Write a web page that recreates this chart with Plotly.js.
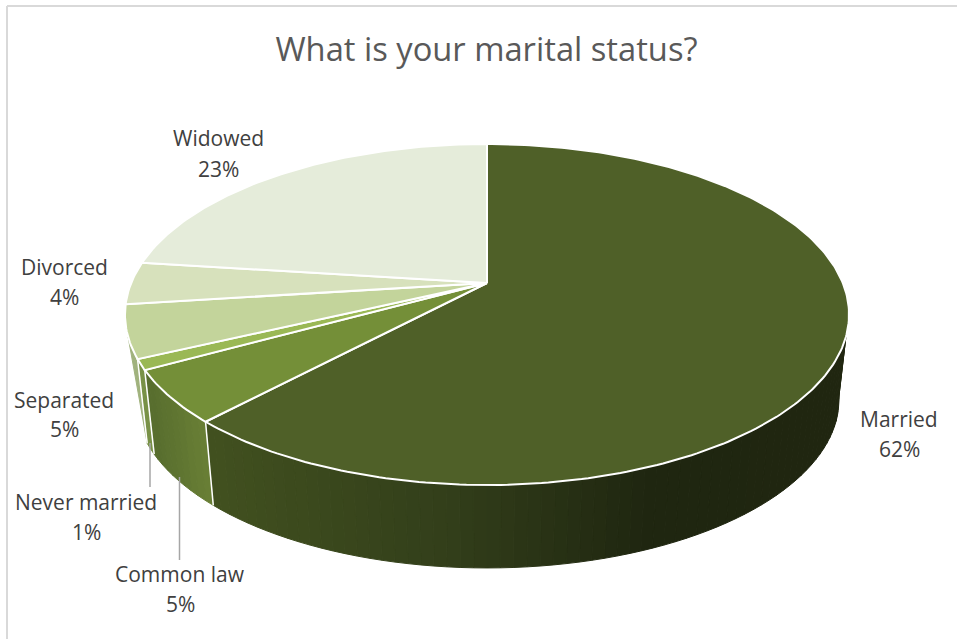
<!DOCTYPE html>
<html><head><meta charset="utf-8">
<script src="https://cdn.plot.ly/plotly-3.0.1.min.js"></script>
<style>html,body{margin:0;padding:0;background:#fff}#c{width:957px;height:639px}</style>
</head><body><div id="c"></div>
<script>
// ---- data ----
const titleText = "What is your marital status?";
const categories = ["Married","Common law","Never married","Separated","Divorced","Widowed"];
const values = [62,5,1,5,4,23];
const topColors = ["#4f6028","#748f38","#9ab855","#c3d49b","#d7e1bc","#e5ecda"];
// side shading of each slice: [x px, r,g,b] stops
const sideStops = [
  [[215,65,80,31],[450,50,62,26],[650,31,38,16],[860,32,38,16]],
  [[150,88,110,46],[207,106,128,54]],
  [[135,120,145,70],[150,120,145,70]],
  [[120,160,178,125],[145,160,178,125]],
  [[100,170,185,135],[130,170,185,135]],
  [[100,180,190,160],[130,180,190,160]]
];
// label placement (page pixels of the centre of the two text lines)
const labelX = [899,180,86,64,64,218];
const labelY1 = [419,574,502,400,267,138];
const labelY2 = [449,604,532,429,297,169];
const leaders = [[150,443,487],[179.5,477,560]];

// ---- projection of the pie disc (perspective) ----
const cx=487, k=0.1848;
const topPlane={A:355.8,B:164.7,y0:283};
const botPlane={A:346,B:163,y0:368};
function proj(p,t){ // t: cumulative share 0..100, clockwise from 12 o'clock
  const a=t/100*2*Math.PI, X=Math.sin(a), Y=Math.cos(a), d=1+k*Y;
  return [cx+p.A*X/d, p.y0-p.B*Y/d];
}
function shade(i,x){
  const s=sideStops[i];
  if(x<=s[0][0]) return `rgb(${s[0][1]},${s[0][2]},${s[0][3]})`;
  for(let j=1;j<s.length;j++){ if(x<=s[j][0]){
    const f=(x-s[j-1][0])/(s[j][0]-s[j-1][0]);
    const c=[1,2,3].map(n=>Math.round(s[j-1][n]+f*(s[j][n]-s[j-1][n])));
    return `rgb(${c.join(',')})`;
  }}
  const l=s[s.length-1]; return `rgb(${l[1]},${l[2]},${l[3]})`;
}
const traces=[];
function poly(xs,ys,fill,lineColor,lw){
  traces.push({type:'scatter',mode:'lines',x:xs,y:ys,fill:'toself',fillcolor:fill,
    line:{color:lineColor||fill,width:lw===undefined?1:lw,shape:'linear'},hoverinfo:'skip',showlegend:false});
}
function line(xs,ys,color,w){
  traces.push({type:'scatter',mode:'lines',x:xs,y:ys,line:{color:color,width:w},hoverinfo:'skip',showlegend:false});
}
// starts/ends of slices
const starts=[]; let acc=0;
values.forEach(v=>{starts.push(acc);acc+=v;});
// front rim strips
const rimFrom=30, rimTo=68, STEP=0.5;
values.forEach((v,i)=>{
  const a=Math.max(starts[i],rimFrom), b=Math.min(starts[i]+v,rimTo);
  for(let t=a;t<b-1e-9;t+=STEP){
    const t2=Math.min(t+STEP,b);
    const p1=proj(topPlane,t),p2=proj(topPlane,t2),q2=proj(botPlane,t2),q1=proj(botPlane,t);
    poly([p1[0],p2[0],q2[0],q1[0],p1[0]],[p1[1],p2[1],q2[1],q1[1],p1[1]],shade(i,(p1[0]+p2[0])/2));
  }
});
// silhouette ends of the rim: straight edge from the top disc to the tangent of the lower disc
(function(){
  const xs=[proj(topPlane,30)[0]],ys=[proj(topPlane,30)[1]];
  for(let t=27.5;t<=30.01;t+=0.5){const q=proj(botPlane,t);xs.push(q[0]);ys.push(q[1]);}
  xs.push(xs[0]);ys.push(ys[0]);
  poly(xs,ys,shade(0,840));
  const a=proj(topPlane,68),b=proj(topPlane,69),c=proj(topPlane,70),q=proj(botPlane,68);
  poly([a[0],b[0],c[0],q[0],a[0]],[a[1],b[1],c[1],q[1],a[1]],shade(3,130));
})();
// white seams between the side faces
[62,67,68].forEach(t=>{
  const p=proj(topPlane,t),q=proj(botPlane,t);
  line([p[0],q[0]],[p[1],q[1]],'#ffffff',1.5);
});
// top faces
values.forEach((v,i)=>{
  const xs=[cx],ys=[topPlane.y0];
  const n=Math.max(8,Math.round(v*4));
  for(let j=0;j<=n;j++){const p=proj(topPlane,starts[i]+v*j/n);xs.push(p[0]);ys.push(p[1]);}
  xs.push(cx);ys.push(topPlane.y0);
  poly(xs,ys,topColors[i],'#ffffff',2);
});
// leader lines
leaders.forEach(l=>line([l[0],l[0]],[l[1],l[2]],'#a6a6a6',1.5));

const labelFont={family:'"Open Sans",sans-serif',size:21,color:'#404040'};
const annotations=[];
categories.forEach((c,i)=>{
  [[c,labelY1[i]],[values[i]+'%',labelY2[i]]].forEach(a=>annotations.push({
    x:labelX[i],y:a[1],xref:'x',yref:'y',text:a[0],showarrow:false,
    xanchor:'center',yanchor:'middle',font:labelFont}));
});
const layout={
  width:957,height:639,margin:{l:0,r:0,t:0,b:0},
  paper_bgcolor:'#fff',plot_bgcolor:'#fff',showlegend:false,
  title:{text:titleText,x:486.5/957,xanchor:'center',y:1-50/639,yanchor:'middle',
    font:{family:'"Open Sans",sans-serif',size:32.7,color:'#595959'}},
  xaxis:{range:[0,957],visible:false,fixedrange:true},
  yaxis:{range:[639,0],visible:false,fixedrange:true},
  shapes:[
    {type:'line',xref:'x',yref:'y',x0:7,x1:957,y0:6,y1:6,line:{color:'#d9d9d9',width:2}},
    {type:'line',xref:'x',yref:'y',x0:7,x1:7,y0:6,y1:639,line:{color:'#d9d9d9',width:2}}
  ],
  annotations:annotations
};
Plotly.newPlot('c',traces,layout,{staticPlot:true,displayModeBar:false});
</script></body></html>
